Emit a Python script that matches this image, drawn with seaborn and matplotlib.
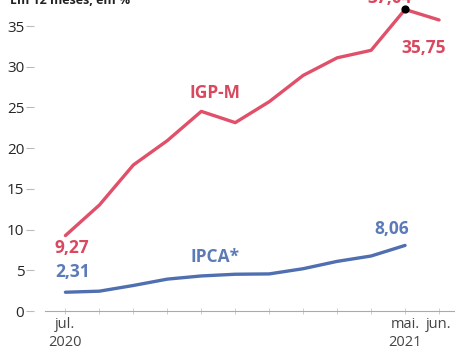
import matplotlib
matplotlib.use("Agg")
import matplotlib.pyplot as plt
import seaborn as sns
import pandas as pd

months = ["jul.", "ago.", "set.", "out.", "nov.", "dez.", "jan.", "fev.", "mar.", "abr.", "mai.", "jun."]
igpm = [9.27, 13.02, 17.94, 20.93, 24.52, 23.14, 25.71, 28.94, 31.10, 32.02, 37.04, 35.75]
ipca = [2.31, 2.44, 3.14, 3.92, 4.31, 4.52, 4.56, 5.20, 6.10, 6.76, 8.06]
tick_labels = {0: "jul.\n2020", 10: "mai.\n2021", 11: "jun."}

RED = "#e0506a"
BLUE = "#4f6fb0"
RED_TXT = "#d9485e"
BLUE_TXT = "#5b7bb8"

sns.set_theme(style="white")
plt.rcParams["font.family"] = ["Open Sans", "DejaVu Sans"]

df_igpm = pd.DataFrame({"idx": range(len(igpm)), "val": igpm})
df_ipca = pd.DataFrame({"idx": range(len(ipca)), "val": ipca})

fig = plt.figure(figsize=(4.55, 3.6), dpi=100)
ax = fig.add_axes([0.099, 0.136, 0.901, 0.864])

sns.lineplot(data=df_igpm, x="idx", y="val", color=RED, lw=2.4, ax=ax)
sns.lineplot(data=df_ipca, x="idx", y="val", color=BLUE, lw=2.4, ax=ax)
ax.scatter([10], [igpm[10]], s=24, color="black", zorder=5)

ax.set_xlim(-0.6, 11.47)
ax.set_ylim(0, 38.2)
ax.set_xlabel("")
ax.set_ylabel("")

ax.set_xticks(range(len(months)))
ax.set_xticklabels([tick_labels.get(i, "") for i in range(len(months))],
                   fontsize=10.5, color="#444444", linespacing=1.25)
ax.set_yticks([0, 5, 10, 15, 20, 25, 30, 35])
ax.set_yticklabels(["0", "5", "10", "15", "20", "25", "30", "35"], fontsize=6.8, color="#888888")
ax.tick_params(axis="x", direction="inout", length=5, width=0.5, color="#bbbbbb", pad=2, bottom=True)
ax.tick_params(axis="y", direction="out", length=6, width=0.8, color="#bbbbbb", pad=1, left=True)

for s in ["top", "right"]:
    ax.spines[s].set_visible(False)
ax.spines["left"].set_visible(False)
ax.spines["left"].set_position(("outward", 8))
ax.spines["bottom"].set_color("#aaaaaa")
ax.spines["bottom"].set_linewidth(0.8)

kw = dict(ha="center", va="center", fontsize=12.5, fontweight="bold")
ax.text(0.2, 7.7, "9,27", color=RED_TXT, **kw)
ax.text(0.2, 4.8, "2,31", color=BLUE_TXT, **kw)
ax.text(4.4, 6.6, "IPCA*", color=BLUE_TXT, **kw)
ax.text(9.6, 10.1, "8,06", color=BLUE_TXT, **kw)
ax.text(4.4, 26.8, "IGP-M", color=RED_TXT, **kw)
ax.text(10.55, 32.3, "35,75", color=RED_TXT, **kw)
ax.text(9.55, 38.4, "37,04", color=RED_TXT, clip_on=False, **kw)

fig.text(0.022, 1.0, "Em 12 meses, em %", ha="left", va="center",
         fontsize=9, fontweight="bold", color="#222222")

fig.savefig("out.png", dpi=100)
